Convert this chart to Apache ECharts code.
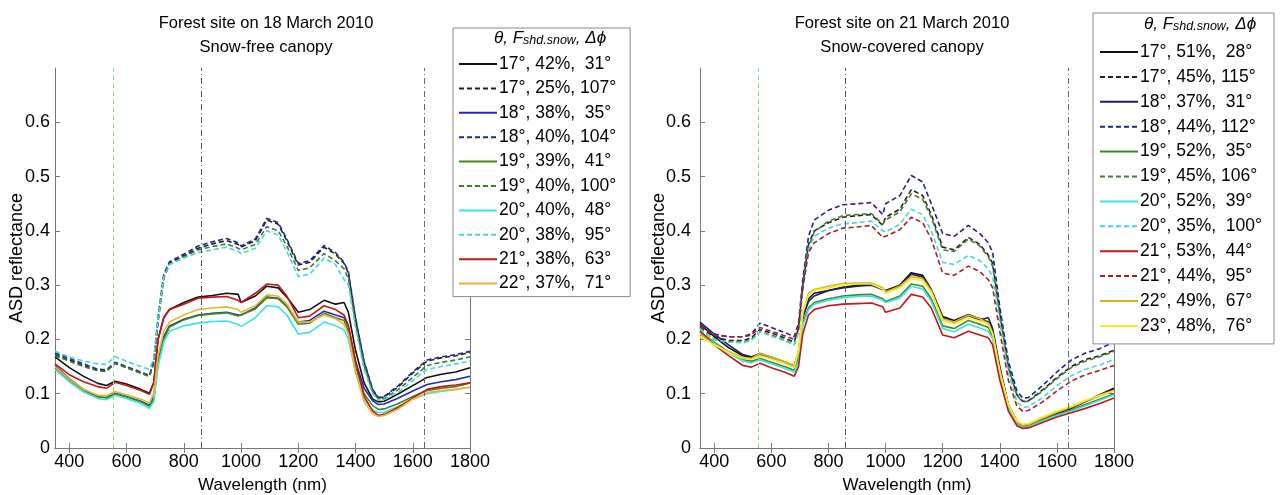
<!DOCTYPE html>
<html>
<head>
<meta charset="utf-8">
<script src="https://cdn.jsdelivr.net/npm/echarts@6/dist/echarts.min.js"></script>
<style>html,body{margin:0;padding:0;background:#fff;}#c{width:1281px;height:495px;}</style>
</head>
<body>
<div id="c"></div>
<script>
// ---- data ----
const WAVELENGTH = [350,400,450,500,530,560,600,650,680,695,710,730,750,800,850,900,950,990,1000,1050,1090,1130,1160,1200,1240,1290,1330,1360,1375,1400,1430,1460,1480,1500,1550,1600,1650,1700,1750,1800];
const X_TICKS = [400,600,800,1000,1200,1400,1600,1800];
const Y_TICKS = [0,0.1,0.2,0.3,0.4,0.5,0.6];
const REF_LINES = [555, 860, 1640];

// 18 March 2010, snow-free canopy
const LEFT_NAMES = ['17°, 42%,  31°','17°, 25%, 107°','18°, 38%,  35°','18°, 40%, 104°','19°, 39%,  41°','19°, 40%, 100°','20°, 40%,  48°','20°, 38%,  95°','21°, 38%,  63°','22°, 37%,  71°'];
const march18_k_31  = [0.168,0.148,0.132,0.119,0.115,0.123,0.118,0.108,0.101,0.12,0.2,0.24,0.255,0.268,0.278,0.281,0.285,0.283,0.268,0.28,0.298,0.295,0.278,0.25,0.255,0.272,0.265,0.268,0.25,0.18,0.12,0.09,0.085,0.086,0.1,0.115,0.13,0.136,0.14,0.148];
const march18_k_107 = [0.172,0.162,0.152,0.143,0.142,0.156,0.148,0.138,0.132,0.158,0.235,0.315,0.34,0.354,0.368,0.376,0.382,0.375,0.37,0.382,0.42,0.412,0.382,0.337,0.342,0.37,0.357,0.34,0.322,0.238,0.158,0.106,0.092,0.094,0.113,0.138,0.16,0.166,0.17,0.176];
const march18_b_35  = [0.152,0.128,0.108,0.095,0.093,0.101,0.095,0.086,0.079,0.095,0.16,0.205,0.225,0.237,0.245,0.248,0.25,0.245,0.245,0.258,0.278,0.276,0.262,0.232,0.235,0.252,0.245,0.24,0.225,0.16,0.11,0.087,0.08,0.081,0.092,0.105,0.117,0.122,0.126,0.132];
const march18_b_104 = [0.175,0.165,0.155,0.145,0.144,0.158,0.15,0.14,0.134,0.16,0.24,0.32,0.343,0.357,0.372,0.38,0.386,0.378,0.372,0.385,0.423,0.415,0.385,0.34,0.345,0.373,0.36,0.342,0.325,0.24,0.16,0.108,0.093,0.095,0.115,0.14,0.162,0.168,0.172,0.178];
const march18_g_41  = [0.148,0.125,0.106,0.094,0.092,0.1,0.094,0.085,0.077,0.09,0.155,0.2,0.223,0.236,0.244,0.247,0.249,0.243,0.245,0.256,0.277,0.275,0.26,0.228,0.23,0.248,0.24,0.235,0.215,0.15,0.1,0.078,0.071,0.072,0.082,0.095,0.106,0.11,0.113,0.12];
const march18_g_100 = [0.17,0.16,0.15,0.142,0.141,0.156,0.148,0.138,0.132,0.155,0.232,0.312,0.338,0.352,0.365,0.371,0.376,0.368,0.365,0.375,0.408,0.4,0.372,0.327,0.332,0.358,0.345,0.33,0.312,0.23,0.152,0.103,0.09,0.091,0.108,0.13,0.152,0.158,0.162,0.168];
const march18_c_48  = [0.145,0.122,0.103,0.091,0.089,0.097,0.091,0.082,0.073,0.085,0.15,0.195,0.215,0.225,0.23,0.233,0.234,0.228,0.224,0.24,0.262,0.26,0.245,0.21,0.213,0.232,0.225,0.218,0.2,0.14,0.09,0.07,0.065,0.066,0.077,0.09,0.1,0.104,0.108,0.112];
const march18_c_95  = [0.178,0.168,0.16,0.155,0.154,0.168,0.16,0.15,0.145,0.165,0.24,0.315,0.338,0.35,0.36,0.365,0.37,0.362,0.358,0.368,0.4,0.392,0.362,0.316,0.32,0.35,0.338,0.31,0.3,0.222,0.145,0.1,0.088,0.089,0.103,0.124,0.145,0.15,0.155,0.16];
const march18_r_63  = [0.155,0.135,0.122,0.113,0.11,0.121,0.115,0.106,0.099,0.12,0.2,0.24,0.255,0.265,0.276,0.278,0.279,0.272,0.268,0.285,0.302,0.3,0.28,0.24,0.243,0.262,0.255,0.245,0.225,0.16,0.095,0.068,0.06,0.062,0.075,0.092,0.108,0.113,0.116,0.12];
const march18_o_71  = [0.15,0.127,0.108,0.097,0.096,0.104,0.098,0.09,0.083,0.1,0.17,0.215,0.232,0.245,0.255,0.258,0.26,0.255,0.25,0.262,0.282,0.28,0.265,0.232,0.232,0.245,0.238,0.228,0.21,0.14,0.085,0.063,0.058,0.06,0.072,0.09,0.102,0.106,0.108,0.112];

// 21 March 2010, snow-covered canopy
const RIGHT_NAMES = ['17°, 51%,  28°','17°, 45%, 115°','18°, 37%,  31°','18°, 44%, 112°','19°, 52%,  35°','19°, 45%, 106°','20°, 52%,  39°','20°, 35%,  100°','21°, 53%,  44°','21°, 44%,  95°','22°, 49%,  67°','23°, 48%,  76°'];
const march21_k_28  = [0.228,0.205,0.185,0.17,0.167,0.174,0.167,0.158,0.151,0.175,0.245,0.275,0.285,0.29,0.296,0.3,0.302,0.293,0.29,0.3,0.323,0.318,0.292,0.242,0.235,0.246,0.238,0.232,0.215,0.145,0.078,0.048,0.041,0.042,0.054,0.064,0.073,0.086,0.098,0.11];
const march21_k_115 = [0.222,0.205,0.198,0.198,0.203,0.218,0.212,0.202,0.195,0.22,0.3,0.375,0.4,0.415,0.425,0.428,0.43,0.41,0.425,0.44,0.476,0.465,0.43,0.37,0.365,0.388,0.375,0.355,0.34,0.25,0.15,0.098,0.086,0.087,0.107,0.13,0.15,0.163,0.17,0.18];
const march21_b_31  = [0.232,0.21,0.19,0.172,0.168,0.172,0.165,0.156,0.15,0.175,0.24,0.27,0.28,0.29,0.295,0.298,0.3,0.292,0.288,0.298,0.32,0.315,0.29,0.24,0.232,0.244,0.236,0.24,0.22,0.15,0.08,0.05,0.042,0.043,0.055,0.065,0.073,0.085,0.097,0.108];
const march21_b_112 = [0.225,0.21,0.205,0.205,0.21,0.23,0.222,0.212,0.205,0.23,0.31,0.39,0.42,0.438,0.448,0.45,0.452,0.43,0.45,0.465,0.502,0.49,0.45,0.395,0.39,0.41,0.395,0.378,0.36,0.26,0.16,0.105,0.092,0.093,0.115,0.14,0.162,0.175,0.183,0.195];
const march21_g_35  = [0.215,0.195,0.177,0.163,0.16,0.165,0.158,0.149,0.143,0.165,0.23,0.258,0.268,0.275,0.28,0.282,0.283,0.275,0.27,0.28,0.302,0.298,0.275,0.225,0.22,0.235,0.228,0.222,0.205,0.138,0.075,0.045,0.039,0.04,0.051,0.061,0.07,0.08,0.09,0.1];
const march21_g_106 = [0.22,0.2,0.195,0.195,0.2,0.215,0.208,0.198,0.19,0.215,0.295,0.37,0.398,0.418,0.428,0.43,0.432,0.412,0.42,0.435,0.468,0.458,0.425,0.365,0.362,0.385,0.372,0.352,0.335,0.245,0.148,0.097,0.085,0.086,0.105,0.128,0.148,0.16,0.168,0.178];
const march21_c_39  = [0.213,0.193,0.175,0.16,0.157,0.162,0.155,0.146,0.14,0.16,0.225,0.255,0.265,0.272,0.277,0.279,0.28,0.272,0.268,0.276,0.298,0.293,0.27,0.22,0.214,0.228,0.221,0.215,0.2,0.135,0.073,0.044,0.038,0.039,0.05,0.06,0.068,0.078,0.088,0.098];
const march21_c_100 = [0.22,0.2,0.195,0.194,0.198,0.214,0.206,0.197,0.19,0.215,0.29,0.365,0.39,0.405,0.413,0.415,0.418,0.4,0.398,0.412,0.44,0.43,0.4,0.342,0.338,0.355,0.345,0.33,0.315,0.23,0.138,0.085,0.075,0.076,0.093,0.115,0.133,0.145,0.153,0.163];
const march21_r_44  = [0.215,0.19,0.17,0.152,0.149,0.156,0.148,0.139,0.132,0.15,0.21,0.245,0.255,0.262,0.265,0.266,0.267,0.26,0.25,0.258,0.283,0.278,0.258,0.208,0.203,0.215,0.208,0.203,0.19,0.125,0.068,0.041,0.036,0.037,0.047,0.057,0.065,0.073,0.082,0.092];
const march21_r_95  = [0.225,0.208,0.205,0.205,0.208,0.222,0.215,0.206,0.2,0.22,0.295,0.36,0.378,0.395,0.405,0.407,0.41,0.388,0.39,0.402,0.425,0.415,0.385,0.322,0.318,0.335,0.325,0.31,0.295,0.215,0.125,0.077,0.068,0.069,0.085,0.105,0.123,0.135,0.143,0.152];
const march21_o_67  = [0.21,0.19,0.178,0.167,0.165,0.174,0.167,0.158,0.151,0.18,0.25,0.285,0.292,0.298,0.303,0.304,0.304,0.295,0.288,0.298,0.316,0.312,0.29,0.238,0.232,0.245,0.238,0.23,0.212,0.142,0.078,0.048,0.042,0.043,0.055,0.066,0.075,0.086,0.096,0.105];
const march21_y_76  = [0.205,0.19,0.176,0.165,0.163,0.17,0.164,0.155,0.148,0.178,0.248,0.282,0.29,0.295,0.3,0.302,0.302,0.293,0.285,0.295,0.312,0.308,0.287,0.235,0.228,0.24,0.234,0.228,0.21,0.142,0.08,0.05,0.044,0.045,0.057,0.068,0.077,0.088,0.097,0.106];

const LEFT_VALUES = [march18_k_31, march18_k_107, march18_b_35, march18_b_104, march18_g_41, march18_g_100, march18_c_48, march18_c_95, march18_r_63, march18_o_71];
const RIGHT_VALUES = [march21_k_28, march21_k_115, march21_b_31, march21_b_112, march21_g_35, march21_g_106, march21_c_39, march21_c_100, march21_r_44, march21_r_95, march21_o_67, march21_y_76];

// ---- styles ----
const LEFT_STYLE = [
  ['#111111','solid'],['#222222','dashed'],['#1f2fb0','solid'],['#1a2a9a','dashed'],
  ['#3f8a25','solid'],['#3f7f2a','dashed'],['#36e6e6','solid'],['#40d8d8','dashed'],
  ['#c8141a','solid'],['#f0b428','solid']];
const RIGHT_STYLE = [
  ['#111111','solid'],['#222222','dashed'],['#1c1c6e','solid'],['#1c2290','dashed'],
  ['#3f8a25','solid'],['#3f7f2a','dashed'],['#36e6e6','solid'],['#40d8d8','dashed'],
  ['#c8141a','solid'],['#a82020','dashed'],['#dcb020','solid'],['#f2f020','solid']];

const FONT = 'Liberation Sans, Arial, Helvetica, sans-serif';
const DASH = [5, 3];

function makeSeries(names, values, styles, idx) {
  return names.map((n, i) => ({
    name: n, type: 'line', xAxisIndex: idx * 2, yAxisIndex: idx * 2,
    symbol: 'none', showSymbol: false, animation: false, z: 3,
    lineStyle: { color: styles[i][0], width: 1.6, type: styles[i][1] === 'dashed' ? DASH : 'solid' },
    itemStyle: { color: styles[i][0] },
    data: WAVELENGTH.map((w, k) => [w, values[i][k]])
  }));
}

function refSeries(idx) {
  return {
    type: 'line', xAxisIndex: idx * 2, yAxisIndex: idx * 2, data: [], silent: true, z: 1,
    markLine: {
      silent: true, symbol: ['none', 'none'], label: { show: false }, animation: false,
      data: [
        { xAxis: REF_LINES[0], lineStyle: { color: '#8fdc8f', width: 1, type: [5, 3] } },
        { xAxis: REF_LINES[1], lineStyle: { color: '#555', width: 1, type: [6, 3, 1, 3] } },
        { xAxis: REF_LINES[2], lineStyle: { color: '#666', width: 1, type: [6, 3, 1, 3] } }
      ]
    }
  };
}

const grids = [
  { left: 55, top: 68, width: 415, height: 380, outerBoundsMode: 'none', containLabel: false },
  { left: 700, top: 68, width: 414, height: 380, outerBoundsMode: 'none', containLabel: false }
];

function xAxes(gi) {
  return [
    { type: 'value', gridIndex: gi, position: 'bottom', min: 350, max: 1800,
      name: 'Wavelength (nm)', nameLocation: 'middle', nameGap: 29, nameMoveOverlap: false,
      nameTextStyle: { fontFamily: FONT, fontSize: 17, color: '#000' },
      axisLine: { lineStyle: { color: '#777', width: 1 } },
      axisTick: { inside: true, length: 5, customValues: X_TICKS, lineStyle: { color: '#777' } },
      axisLabel: { customValues: X_TICKS, fontFamily: FONT, fontSize: 18, color: '#000', margin: 5,
        formatter: v => String(v) },
      splitLine: { show: false } },
    { type: 'value', gridIndex: gi, position: 'top', min: 350, max: 1800,
      axisLine: { lineStyle: { color: '#777', width: 1 } },
      axisTick: { inside: true, length: 5, customValues: X_TICKS, lineStyle: { color: '#777' } },
      axisLabel: { show: false }, splitLine: { show: false } }
  ];
}
function yAxes(gi, labMargin, nameGap) {
  return [
    { type: 'value', gridIndex: gi, position: 'left', min: 0, max: 0.7, interval: 0.1,
      name: 'ASD reflectance', nameLocation: 'middle', nameGap: nameGap, nameRotate: 90, nameMoveOverlap: false,
      nameTextStyle: { fontFamily: FONT, fontSize: 18, color: '#000' },
      axisLine: { show: true, lineStyle: { color: '#777', width: 1 } },
      axisTick: { show: true, inside: true, length: 5, customValues: Y_TICKS, lineStyle: { color: '#777' } },
      axisLabel: { customValues: Y_TICKS, fontFamily: FONT, fontSize: 18, color: '#000', margin: labMargin,
        formatter: v => (v === 0 ? '0' : v.toFixed(1)) },
      splitLine: { show: false } },
    { type: 'value', gridIndex: gi, position: 'right', min: 0, max: 0.7, interval: 0.1,
      axisLine: { show: true, lineStyle: { color: '#777', width: 1 } },
      axisTick: { show: true, inside: true, length: 5, customValues: Y_TICKS, lineStyle: { color: '#777' } },
      axisLabel: { show: false }, splitLine: { show: false } }
  ];
}

const legendCommon = {
  orient: 'vertical', align: 'left', itemWidth: 38, itemHeight: 12,
  backgroundColor: '#fff', borderColor: '#8a8a8a', borderWidth: 1, borderRadius: 0,
  selectedMode: false, z: 10,
  textStyle: { fontFamily: FONT, fontSize: 17.5, color: '#000', lineHeight: 20, padding: [0, 0, 0, -3] },
  itemStyle: { opacity: 0 }
};

const header = (cx, y) => ({
  type: 'text', left: cx, top: y, z: 100,
  style: {
    text: '{i|θ, F}{s|shd.snow}{i|, Δϕ}',
    rich: {
      i: { fontFamily: FONT, fontStyle: 'italic', fontSize: 17, fill: '#000', verticalAlign: 'bottom', lineHeight: 19 },
      s: { fontFamily: FONT, fontStyle: 'italic', fontSize: 12.5, fill: '#000', verticalAlign: 'bottom', lineHeight: 16 }
    }
  }
});

const titleStyle = { fontFamily: FONT, fontSize: 16.5, fontWeight: 'normal', color: '#000', lineHeight: 24 };

const option = {
  backgroundColor: '#fff',
  animation: false,
  title: [
    { text: 'Forest site on 18 March 2010\nSnow-free canopy', left: 261, top: 6, textAlign: 'center', textStyle: titleStyle },
    { text: 'Forest site on 21 March 2010\nSnow-covered canopy', left: 897, top: 6, textAlign: 'center', textStyle: titleStyle }
  ],
  grid: grids,
  xAxis: [...xAxes(0), ...xAxes(1)],
  yAxis: [...yAxes(0, 5, 29), ...yAxes(1, 9, 32)],
  legend: [
    Object.assign({}, legendCommon, { left: 453, top: 28, data: LEFT_NAMES, itemGap: 4.4, padding: [26, 14, 3, 5] }),
    Object.assign({}, legendCommon, { left: 1093, top: 13, data: RIGHT_NAMES, itemGap: 4.9, padding: [29, 12, 8, 6] })
  ],
  graphic: [header(494, 30), header(1144, 16)],
  series: [
    refSeries(0), refSeries(1),
    ...makeSeries(LEFT_NAMES, LEFT_VALUES, LEFT_STYLE, 0),
    ...makeSeries(RIGHT_NAMES, RIGHT_VALUES, RIGHT_STYLE, 1)
  ]
};

const chart = echarts.init(document.getElementById('c'), null, { renderer: 'canvas' });
chart.setOption(option);
</script>
</body>
</html>
